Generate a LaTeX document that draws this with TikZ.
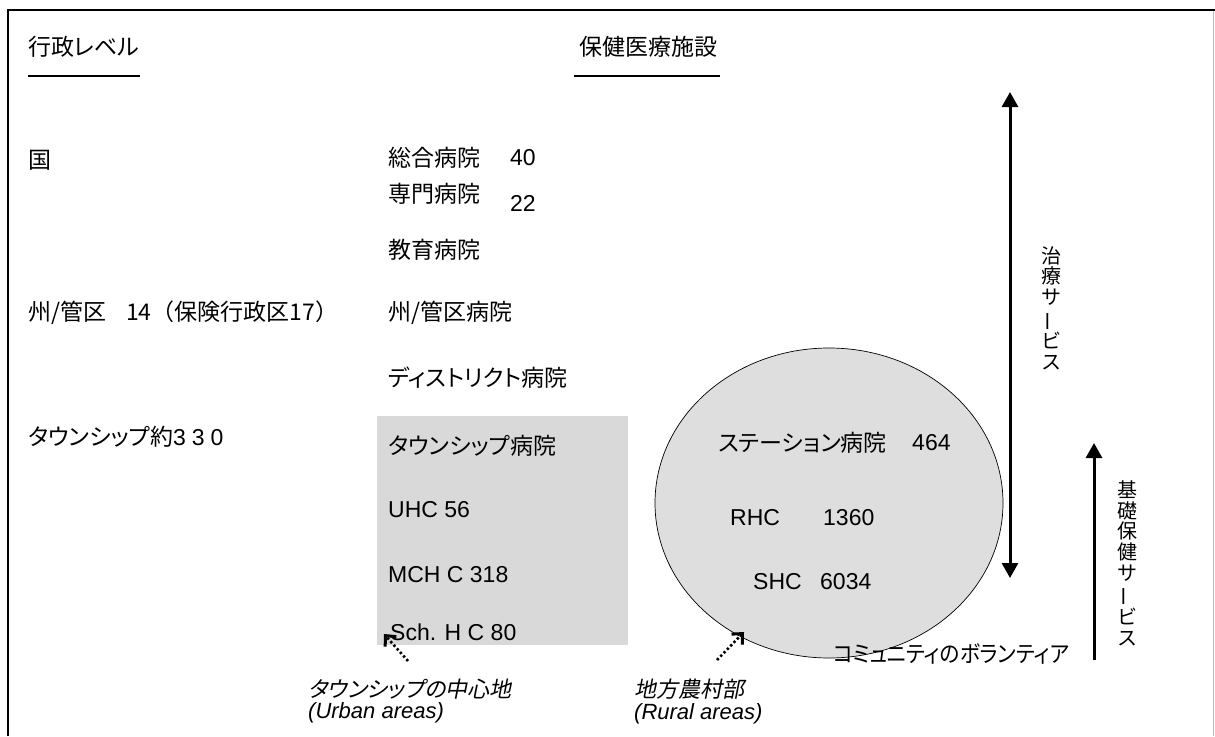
\documentclass[tikz,border=0pt]{standalone}
\usepackage{fontspec}
\usepackage{graphicx}
\setmainfont{Liberation Sans}
\newfontfamily\jp{Noto Sans CJK JP}[RawFeature=+palt]
\newfontfamily\jpfull{Noto Sans CJK JP}
\newfontfamily\jpit{Noto Sans CJK JP}[RawFeature=+palt,FakeSlant=0.2]
\usetikzlibrary{arrows.meta,shapes.geometric}
\definecolor{rectgrey}{RGB}{217,217,217}
\definecolor{ellgrey}{RGB}{222,222,222}
\newcommand{\vbar}{\rotatebox[origin=c]{90}{ー}}
\tikzset{
  jtxt/.style={anchor=west, inner sep=0pt, font=\fontsize{23}{27}\selectfont\jp},
  jfull/.style={anchor=west, inner sep=0pt, font=\fontsize{23}{27}\selectfont\jpfull},
  ltxt/.style={anchor=west, inner sep=0pt, font=\fontsize{23}{27}\selectfont},
  jit/.style={anchor=west, inner sep=0pt, font=\fontsize{22}{26}\selectfont\jpit},
  lit/.style={anchor=west, inner sep=0pt, font=\fontsize{22}{26}\selectfont\itshape},
  vtxt/.style={inner sep=0pt, align=center, font=\fontsize{20}{20.8}\selectfont\jp},
  bigarrow/.style={line width=3pt},
  dotarrow/.style={line width=2.6pt, dash pattern=on 2.4pt off 2.4pt, -{Straight Barb[length=8pt,width=15pt,line width=3pt]}},
  uline/.style={line width=1.5pt}
}
\begin{document}
\begin{tikzpicture}[x=1pt,y=-1pt]
\useasboundingbox (0,0) rectangle (1215,736);
% frame
\draw[line width=1pt, gray!55] (1213,10) -- (1213,736);
\draw[line width=2.5pt] (8,736) -- (8,10) -- (1215,10);
% shaded regions
\node[fill=rectgrey, minimum width=251pt, minimum height=229pt, anchor=north west, inner sep=0pt] (urban) at (377,416) {};
\node[ellipse, draw, line width=0.7pt, fill=ellgrey, minimum width=348pt, minimum height=310pt, inner sep=0pt] (rural) at (829,503) {};
% titles
\node[jtxt] (title1) at (28,47) {行政レベル};
\node[jtxt] (title2) at (579,47) {保健医療施設};
\draw[uline] (28,76) -- (140,76);
\draw[uline] (574,76) -- (720,76);
% administrative levels
\node[jtxt] (kuni) at (28,160) {国};
\node[jfull] (lv2) at (28,313) {州/管区\hspace{20pt}14（保険行政区17）};
\node[jtxt] (lv3) at (28,437) {タウンシップ約{\normalfont 3\hspace{6pt}3\hspace{6pt}0}};
% facilities
\node[jtxt] (h1) at (388,158) {総合病院};
\node[ltxt] (n1) at (510,158) {40};
\node[jtxt] (h2) at (388,194) {専門病院};
\node[ltxt] (n2) at (510,203) {22};
\node[jtxt] (h3) at (388,250) {教育病院};
\node[jtxt] (h4) at (388,313) {州/管区病院};
\node[jtxt] (h5) at (388,378) {ディストリクト病院};
\node[jtxt] (h6) at (388,446) {タウンシップ病院};
\node[ltxt] (u1) at (388,510) {UHC 56};
\node[ltxt] (u2) at (388,575) {MCH C 318};
\node[ltxt] (u3) at (390,632) {Sch. H C 80};
\node[jtxt] (r0) at (718,443) {ステーション病院};
\node[ltxt] (r0n) at (912,443) {464};
\node[ltxt] (r1) at (730,518) {RHC};
\node[ltxt] (r1n) at (823,518) {1360};
\node[ltxt] (r2) at (753,582) {SHC};
\node[ltxt] (r2n) at (820,582) {6034};
\node[jtxt] (comm) at (833,654) {\scalebox{0.9}[1]{コミュニティのボランティア}};
% vertical labels
\node[vtxt] (v1) at (1051,308) {治\\療\\サ\\\vbar\\ビ\\ス};
\node[vtxt] (v2) at (1127,563) {基\\礎\\保\\健\\サ\\\vbar\\ビ\\ス};
% arrows
\coordinate (t1) at (1010,92);
\coordinate (t2) at (1010,578);
\draw[bigarrow, {Triangle[length=15pt,width=16pt]}-{Triangle[length=15pt,width=16pt]}] (t1) -- (t2);
\coordinate (s1) at (1094,660);
\coordinate (s2) at (1094,443);
\draw[bigarrow, -{Triangle[length=15pt,width=16pt]}] (s1) -- (s2);
% bottom labels
\node[jit] (b1) at (308,689) {タウンシップの中心地};
\node[lit] (b1e) at (308,713) {(Urban areas)};
\node[jit] (b2) at (634,689) {地方農村部};
\node[lit] (b2e) at (634,714) {(Rural areas)};
\coordinate (d1a) at (408,661);
\coordinate (d1b) at (384,634);
\coordinate (d2a) at (717,660);
\coordinate (d2b) at (744,632);
\draw[dotarrow] (d1a) -- (d1b);
\draw[dotarrow] (d2a) -- (d2b);
\end{tikzpicture}
\end{document}
